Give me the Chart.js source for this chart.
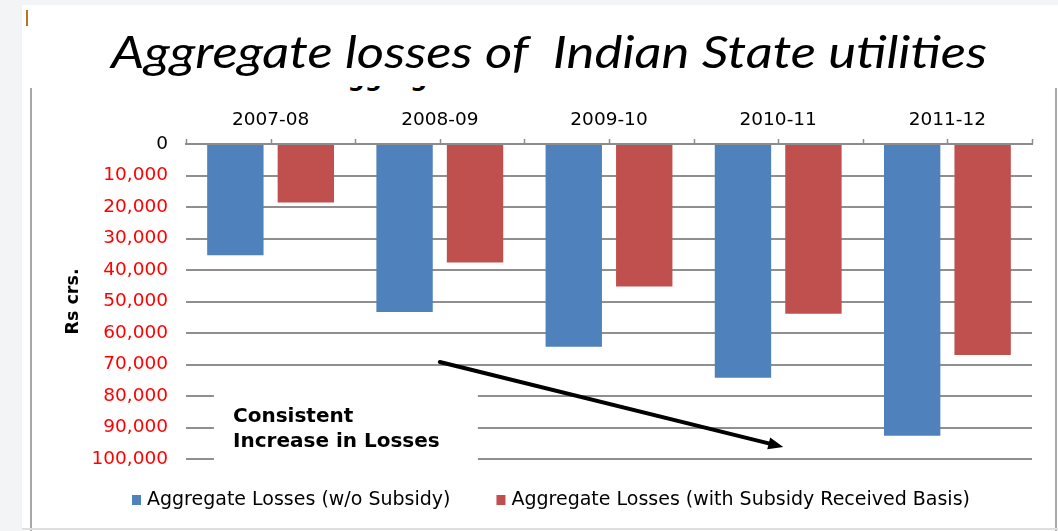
<!DOCTYPE html>
<html>
<head>
<meta charset="utf-8">
<script src="https://cdn.jsdelivr.net/npm/chart.js@4.4.0/dist/chart.umd.min.js"></script>
<style>
    body { margin: 0; background: #fff; }
    #marco { position: relative; width: 1058px; height: 531px; overflow: hidden; }
    .franja { position: absolute; background: #f3f4f6; }
    .linea { position: absolute; background: #a8a8a8; }
    #titulo {
        position: absolute; left: 111px; top: 24px;
        font-family: Lato, "Open Sans", sans-serif; font-style: italic; font-size: 45px;
        line-height: 54px; white-space: pre; color: #000; transform-origin: 0 0;
    }
    /* resto del titulo interno del grafico, recortado como en la diapositiva */
    #recorte { position: absolute; left: 329px; top: 86px; width: 200px; height: 7px; overflow: hidden; }
    #recorte span {
        position: absolute; left: 0; top: -20px; white-space: pre;
        font: bold 24px/24px "DejaVu Sans", sans-serif; color: #000;
    }
    #grafico { position: absolute; left: 0; top: 0; }
</style>
</head>
<body>
<div id="marco">
    <div class="franja" style="left:0;top:0;width:22px;height:531px"></div>
    <div class="franja" style="left:22px;top:0;width:1036px;height:5px"></div>
    <div style="position:absolute;left:26px;top:10px;width:2px;height:16px;background:#b5762a"></div>
    <div class="linea" style="left:30px;top:88px;width:2px;height:443px"></div>
    <div class="linea" style="left:1055px;top:88px;width:2px;height:443px"></div>
    <div class="linea" style="left:22px;top:528px;width:1036px;height:2px;background:#dedede"></div>
    <span id="titulo">Aggregate losses of  Indian State utilities</span>
    <div id="recorte"><span>Aggregate</span></div>
    <canvas id="grafico" width="1058" height="531"></canvas>
</div>
<script>
// datos (perdidas en Rs crores)
const anios = ["2007-08", "2008-09", "2009-10", "2010-11", "2011-12"];
const perdidasSinSubsidio = [35300, 53300, 64400, 74200, 92600];
const perdidasConSubsidio = [18600, 37600, 45200, 53900, 67000];
const valoresEjeY = [0, 10000, 20000, 30000, 40000, 50000, 60000, 70000, 80000, 90000, 100000];

// anotacion (en coordenadas de los ejes: indice de categoria, valor)
const notaLineas = ["Consistent", "Increase in Losses"];
const notaPos = [-0.222, 88200];
const notaCaja = [-0.335, 75000, 1.225, 103000];
const flechaDesde = [1.0, 69200];
const flechaHasta = [3.03, 96200];

const azul = "#4f81bd";
const rojo = "#c0504d";

Chart.defaults.font.family = "'DejaVu Sans', Verdana, sans-serif";

// marcas cortas sobre el eje superior (bordes y centros de cada categoria)
const marcasEje = {
    id: "marcasEje",
    afterDraw(chart) {
        const x = chart.scales.x;
        const ctx = chart.ctx;
        const top = chart.chartArea.top;
        ctx.save();
        ctx.strokeStyle = "#8c8c8c";
        ctx.lineWidth = 1.5;
        for (let i = -0.5; i <= anios.length - 0.5; i += 0.5) {
            const px = Math.round(x.getPixelForValue(i)) + 0.5;
            ctx.beginPath();
            ctx.moveTo(px, top);
            ctx.lineTo(px, top - 5);
            ctx.stroke();
        }
        ctx.restore();
    }
};

const anotacion = {
    id: "anotacion",
    beforeDatasetsDraw(chart) {
        const { x, y } = chart.scales;
        const ctx = chart.ctx;
        const x0 = x.getPixelForValue(notaCaja[0]);
        const y0 = y.getPixelForValue(notaCaja[1]);
        const x1 = x.getPixelForValue(notaCaja[2]);
        const y1 = y.getPixelForValue(notaCaja[3]);
        ctx.save();
        ctx.fillStyle = "#fff";
        ctx.fillRect(x0, y0, x1 - x0, y1 - y0);
        ctx.fillStyle = "#000";
        ctx.font = "bold 20px 'DejaVu Sans'";
        ctx.textBaseline = "alphabetic";
        const tx = x.getPixelForValue(notaPos[0]);
        const ty = y.getPixelForValue(notaPos[1]);
        notaLineas.forEach((t, i) => ctx.fillText(t, tx, ty + i * 25));
        ctx.restore();
    },
    afterDatasetsDraw(chart) {
        const { x, y } = chart.scales;
        const ctx = chart.ctx;
        const ax = x.getPixelForValue(flechaDesde[0]);
        const ay = y.getPixelForValue(flechaDesde[1]);
        const bx = x.getPixelForValue(flechaHasta[0]);
        const by = y.getPixelForValue(flechaHasta[1]);
        const ang = Math.atan2(by - ay, bx - ax);
        const largo = 15;
        ctx.save();
        ctx.strokeStyle = "#000";
        ctx.fillStyle = "#000";
        ctx.lineWidth = 4;
        ctx.lineCap = "round";
        ctx.beginPath();
        ctx.moveTo(ax, ay);
        ctx.lineTo(bx - Math.cos(ang) * (largo - 2), by - Math.sin(ang) * (largo - 2));
        ctx.stroke();
        ctx.beginPath();
        ctx.moveTo(bx, by);
        ctx.lineTo(bx - largo * Math.cos(ang) + 6 * Math.sin(ang), by - largo * Math.sin(ang) - 6 * Math.cos(ang));
        ctx.lineTo(bx - largo * Math.cos(ang) - 6 * Math.sin(ang), by - largo * Math.sin(ang) + 6 * Math.cos(ang));
        ctx.closePath();
        ctx.fill();
        ctx.restore();
    }
};

// leyenda propia para poder separar los items como en el original
const leyenda = {
    id: "leyenda",
    afterDraw(chart) {
        const ctx = chart.ctx;
        const yc = chart.chartArea.bottom + 41;
        let x = 132;
        ctx.save();
        ctx.font = "19px 'DejaVu Sans'";
        ctx.textBaseline = "middle";
        chart.data.datasets.forEach((ds) => {
            ctx.fillStyle = ds.backgroundColor;
            ctx.fillRect(x, yc - 5, 9, 10);
            ctx.fillStyle = "#000";
            ctx.fillText(ds.label, x + 15, yc);
            x += 15 + ctx.measureText(ds.label).width + 46;
        });
        ctx.restore();
    }
};

const grafico = new Chart(document.getElementById("grafico"), {
    type: "bar",
    data: {
        labels: anios,
        datasets: [
            {
                label: "Aggregate Losses (w/o Subsidy)",
                data: perdidasSinSubsidio,
                backgroundColor: azul,
                barPercentage: 0.8,
                categoryPercentage: 0.833
            },
            {
                label: "Aggregate Losses (with Subsidy Received Basis)",
                data: perdidasConSubsidio,
                backgroundColor: rojo,
                barPercentage: 0.8,
                categoryPercentage: 0.833
            }
        ]
    },
    options: {
        responsive: false,
        animation: false,
        layout: { padding: { left: 63, top: 104, right: 26, bottom: 72 } },
        plugins: {
            legend: { display: false },
            tooltip: { enabled: false }
        },
        scales: {
            x: {
                position: "top",
                grid: { display: false, drawTicks: false },
                border: { display: true, color: "#8c8c8c", width: 2 },
                ticks: { color: "#000", font: { size: 18.5 }, padding: 13, maxRotation: 0 },
                afterFit: (s) => { s.height = 40; }
            },
            y: {
                reverse: true,
                min: 0,
                max: 100000,
                afterBuildTicks: (s) => { s.ticks = valoresEjeY.map((v) => ({ value: v })); },
                grid: { color: "#8f8f8f", lineWidth: 2, drawTicks: false },
                border: { display: false },
                ticks: {
                    padding: 18,
                    font: { size: 18.5 },
                    color: (c) => (c.tick && c.tick.value === 0 ? "#000" : "#ff0000"),
                    callback: (v) => v.toLocaleString("en-US")
                },
                title: {
                    display: true,
                    text: "Rs crs.",
                    color: "#000",
                    font: { size: 17.5, weight: "bold" },
                    padding: { top: 0, bottom: 0 }
                },
                afterFit: (s) => { s.width = 123; }
            }
        }
    },
    plugins: [marcasEje, anotacion, leyenda]
});

// ajustar el ancho del titulo al del original
document.fonts.ready.then(() => {
    const t = document.getElementById("titulo");
    const w = t.getBoundingClientRect().width;
    t.style.transform = "scaleX(" + (876 / w) + ")";
});
</script>
</body>
</html>
